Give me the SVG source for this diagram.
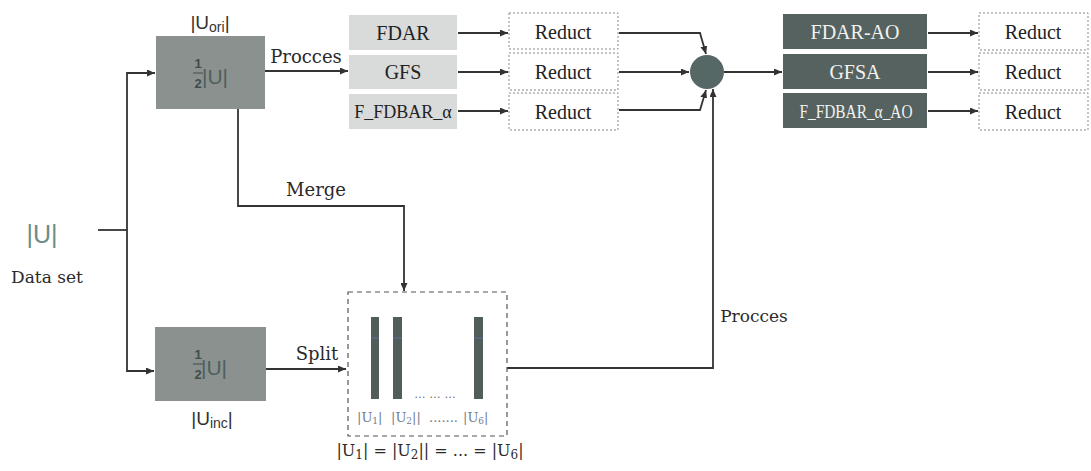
<svg xmlns="http://www.w3.org/2000/svg" width="1091" height="471" viewBox="0 0 1091 471">
<style>
.conn{fill:none;stroke:#333;stroke-width:1.8}
.lbl{font-family:"DejaVu Serif","Liberation Serif",serif;fill:#2a2a2a}
.tnr{font-family:"Liberation Serif","Times New Roman",serif;text-anchor:middle}
.sans{font-family:"Liberation Sans",Arial,sans-serif}
.half{fill:#8b918f}
.light{fill:#d8dbda}
.dark{fill:#56625f}
.red{fill:#fff;stroke:#8a8a8a;stroke-width:1;stroke-dasharray:2 2}
.bar{fill:#505d5b}
</style>
<defs>
<marker id="ah" markerUnits="userSpaceOnUse" markerWidth="8" markerHeight="7" refX="8" refY="3.5" orient="auto">
<path d="M0,0 L8,3.5 L0,7 z" fill="#333"/>
</marker>
</defs>
<rect width="1091" height="471" fill="#fff"/>

<g id="connectors">
<path class="conn" d="M98,230 H127"/>
<path class="conn" d="M127,230 V73 H155" marker-end="url(#ah)"/>
<path class="conn" d="M127,230 V371 H154" marker-end="url(#ah)"/>
<path class="conn" d="M265,71 H348" marker-end="url(#ah)"/>
<path class="conn" d="M238,109 V206 H404 V291" marker-end="url(#ah)"/>
<path class="conn" d="M266,369 H346" marker-end="url(#ah)"/>
<path class="conn" d="M458,33 H508" marker-end="url(#ah)"/>
<path class="conn" d="M458,72 H508" marker-end="url(#ah)"/>
<path class="conn" d="M458,111 H508" marker-end="url(#ah)"/>
<path class="conn" d="M619,33 H700 L706,54" marker-end="url(#ah)"/>
<path class="conn" d="M619,72 H689" marker-end="url(#ah)"/>
<path class="conn" d="M619,110 H700 L706,90" marker-end="url(#ah)"/>
<path class="conn" d="M507,368 H713 V89" marker-end="url(#ah)"/>
<path class="conn" d="M724,72 H782" marker-end="url(#ah)"/>
<path class="conn" d="M928,33 H978" marker-end="url(#ah)"/>
<path class="conn" d="M928,72 H978" marker-end="url(#ah)"/>
<path class="conn" d="M928,111 H978" marker-end="url(#ah)"/>
<text class="lbl" x="306" y="63" font-size="18" text-anchor="middle">Procces</text>
<text class="lbl" x="316" y="196" font-size="18" text-anchor="middle">Merge</text>
<text class="lbl" x="317" y="360" font-size="18" text-anchor="middle">Split</text>
<text class="lbl" x="754" y="322" font-size="17" text-anchor="middle">Procces</text>
</g>

<g id="dataset">
<text class="sans" x="42" y="243" font-size="25" fill="#6b8c89" text-anchor="middle">|U|</text>
<text class="lbl" x="47" y="283" font-size="17" text-anchor="middle">Data set</text>
</g>

<g id="u-ori">
<rect class="half" x="156" y="36" width="109" height="73"/>
<text class="sans" x="210" y="29" font-size="19" fill="#333" text-anchor="middle">|U<tspan font-size="14" dy="3">ori</tspan><tspan dy="-3">|</tspan></text>
<text class="sans" x="198" y="68" font-size="13" fill="#3e4e4c" text-anchor="middle" font-weight="bold">1</text>
<line x1="193" y1="73" x2="203" y2="73" stroke="#3e4e4c" stroke-width="1"/>
<text class="sans" x="198" y="88" font-size="13" fill="#3e4e4c" text-anchor="middle" font-weight="bold">2</text>
<text class="sans" x="215" y="84" font-size="21" fill="#4e5f5d" text-anchor="middle">|U|</text>
</g>

<g id="u-inc">
<rect class="half" x="155" y="327" width="111" height="74"/>
<text class="sans" x="198" y="359" font-size="13" fill="#3e4e4c" text-anchor="middle" font-weight="bold">1</text>
<line x1="193" y1="364" x2="203" y2="364" stroke="#3e4e4c" stroke-width="1"/>
<text class="sans" x="198" y="379" font-size="13" fill="#3e4e4c" text-anchor="middle" font-weight="bold">2</text>
<text class="sans" x="214" y="375" font-size="21" fill="#4e5f5d" text-anchor="middle">|U|</text>
<text class="sans" x="212" y="425" font-size="19" fill="#333" text-anchor="middle">|U<tspan font-size="14" dy="3">inc</tspan><tspan dy="-3">|</tspan></text>
</g>

<g id="split-set">
<rect x="348" y="292" width="159" height="144" fill="none" stroke="#555" stroke-width="1.2" stroke-dasharray="5 4"/>
<rect class="bar" x="371" y="317" width="8" height="82"/>
<rect class="bar" x="393" y="317" width="9" height="82"/>
<rect class="bar" x="474" y="317" width="9" height="82"/>
<g stroke="#5c6f9c" stroke-width="1"><line x1="371" y1="338" x2="379" y2="338"/><line x1="393" y1="338" x2="402" y2="338"/><line x1="474" y1="338" x2="483" y2="338"/></g>
<text class="sans" x="435" y="398" font-size="12" fill="#666" text-anchor="middle" textLength="41" lengthAdjust="spacing">... ... ...</text>
<text font-family="'DejaVu Serif','Liberation Serif',serif" font-size="13" fill="#6f7d8c" y="422"><tspan x="357">|U<tspan font-size="9" dy="2">1</tspan><tspan dy="-2">|</tspan></tspan><tspan x="391">|U<tspan font-size="9" dy="2">2</tspan><tspan dy="-2">||</tspan></tspan><tspan x="429">.......</tspan><tspan x="463">|U<tspan font-size="9" dy="2">6</tspan><tspan dy="-2">|</tspan></tspan></text>
<text class="lbl" x="430" y="456" font-size="16" text-anchor="middle">|U<tspan font-size="12" dy="3">1</tspan><tspan dy="-3">| = |U</tspan><tspan font-size="12" dy="3">2</tspan><tspan dy="-3">|| = ... = |U</tspan><tspan font-size="12" dy="3">6</tspan><tspan dy="-3">|</tspan></text>
</g>

<g id="fdar">
<rect class="light" x="349" y="15" width="108" height="35"/>
<text class="tnr" x="403" y="40" font-size="20" fill="#222">FDAR</text>
</g>
<g id="gfs">
<rect class="light" x="349" y="55" width="108" height="34"/>
<text class="tnr" x="403" y="79" font-size="20" fill="#222">GFS</text>
</g>
<g id="f-fdbar">
<rect class="light" x="349" y="94" width="108" height="35"/>
<text class="tnr" x="403" y="118" font-size="18" fill="#222">F_FDBAR_α</text>
</g>

<g id="reduct-1"><rect class="red" x="509" y="13" width="109" height="36"/><text class="tnr" x="563" y="39" font-size="20" fill="#222">Reduct</text></g>
<g id="reduct-2"><rect class="red" x="509" y="53" width="109" height="37"/><text class="tnr" x="563" y="79" font-size="20" fill="#222">Reduct</text></g>
<g id="reduct-3"><rect class="red" x="509" y="93" width="109" height="37"/><text class="tnr" x="563" y="119" font-size="20" fill="#222">Reduct</text></g>

<g id="combine">
<circle cx="707" cy="72" r="17" fill="#566866"/>
</g>

<g id="fdar-ao">
<rect class="dark" x="783" y="14" width="144" height="35"/>
<text class="tnr" x="855" y="39" font-size="20" fill="#f2f2f2">FDAR-AO</text>
</g>
<g id="gfsa">
<rect class="dark" x="783" y="54" width="144" height="35"/>
<text class="tnr" x="855" y="79" font-size="20" fill="#f2f2f2">GFSA</text>
</g>
<g id="f-fdbar-ao">
<rect class="dark" x="783" y="93" width="144" height="35"/>
<text class="tnr" x="856" y="118" font-size="19" fill="#f2f2f2" textLength="113" lengthAdjust="spacingAndGlyphs">F_FDBAR_α_AO</text>
</g>

<g id="reduct-4"><rect class="red" x="979" y="13" width="109" height="37"/><text class="tnr" x="1033" y="39" font-size="20" fill="#222">Reduct</text></g>
<g id="reduct-5"><rect class="red" x="979" y="53" width="109" height="37"/><text class="tnr" x="1033" y="79" font-size="20" fill="#222">Reduct</text></g>
<g id="reduct-6"><rect class="red" x="979" y="93" width="109" height="37"/><text class="tnr" x="1033" y="119" font-size="20" fill="#222">Reduct</text></g>
</svg>
